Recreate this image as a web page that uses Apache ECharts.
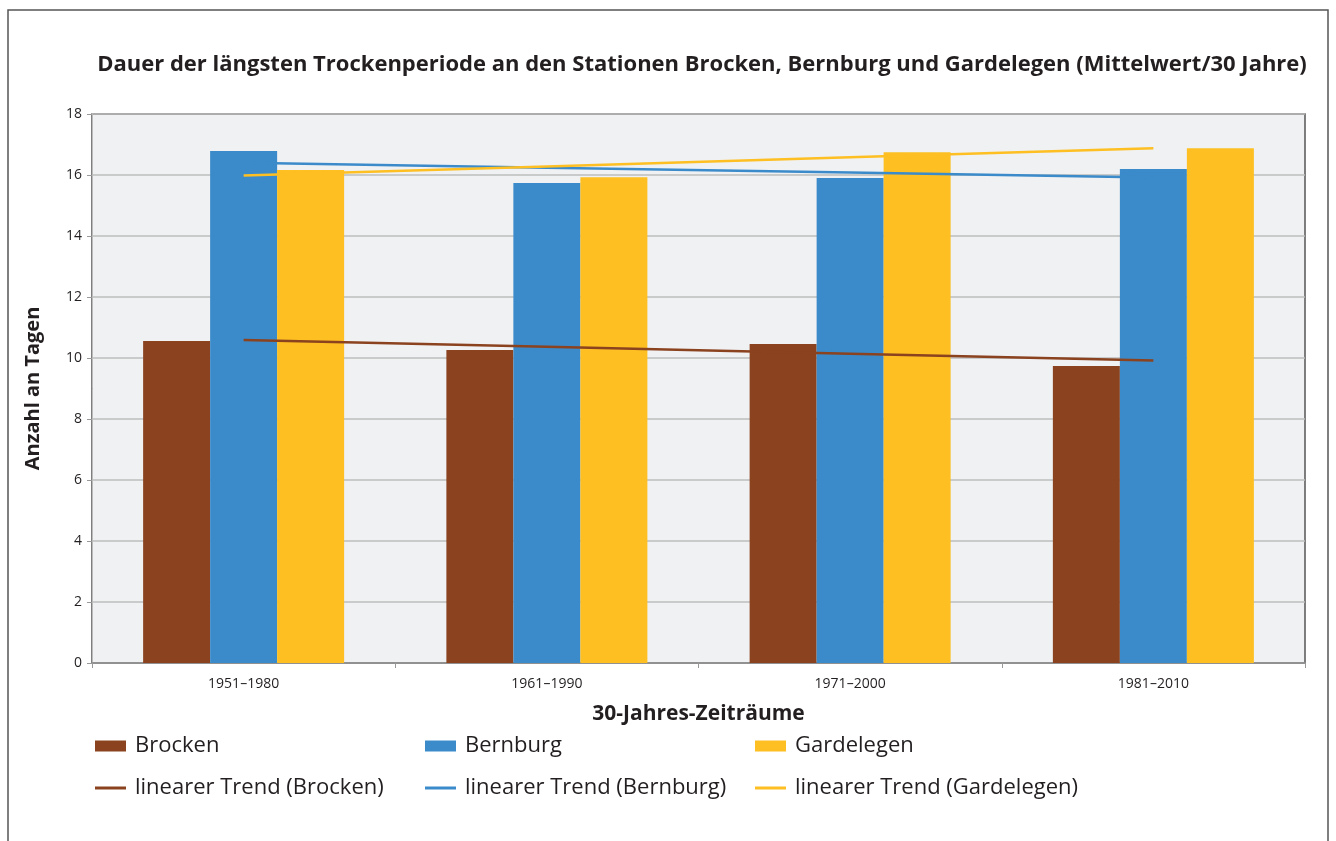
<!DOCTYPE html>
<html>
<head>
    <meta charset="utf-8">
    <title>Trockenperiode</title>
    <script src="https://cdn.jsdelivr.net/npm/echarts@6/dist/echarts.min.js"></script>
</head>
<body style="margin:0;background:#fff;">
    <div id="main" style="width:1336px;height:841px;"></div>
    <script type="text/javascript">
        // Daten
        var zeitraeume = ['1951–1980', '1961–1990', '1971–2000', '1981–2010'];
        var brocken = [10.56, 10.26, 10.46, 9.74];
        var bernburg = [16.79, 15.74, 15.90, 16.20];
        var gardelegen = [16.16, 15.93, 16.75, 16.88];
        // lineare Trends
        var trendBrocken = [10.59, 10.37, 10.14, 9.92];
        var trendBernburg = [16.40, 16.24, 16.08, 15.92];
        var trendGardelegen = [15.98, 16.28, 16.58, 16.88];

        var farben = {brocken: '#8b421e', bernburg: '#3b8bca', gardelegen: '#fdbf22'};
        var schrift = '"Open Sans", sans-serif';

        var myChart = echarts.init(document.getElementById('main'));

        var legendText = {color: '#231f20', fontSize: 22, fontFamily: schrift, padding: [0, 0, 0, 4]};
        // istLinie: schmales Symbol fuer die Trendlinien
        function legende(name, x, y, istLinie) {
            return {
                data: [name], left: x, top: y, padding: 0,
                icon: 'rect', itemWidth: 31, itemHeight: istLinie ? 3 : 11,
                textStyle: legendText, selectedMode: false
            };
        }

        var option = {
            backgroundColor: '#fff',
            animation: false,
            title: {
                text: 'Dauer der längsten Trockenperiode an den Stationen Brocken, Bernburg und Gardelegen (Mittelwert/30 Jahre)',
                left: 697, top: 49, textAlign: 'center',
                textStyle: {color: '#231f20', fontSize: 22, fontWeight: 'bold', fontFamily: schrift}
            },
            graphic: [{
                type: 'rect', shape: {x: 8, y: 10, width: 1320, height: 850},
                style: {fill: 'none', stroke: '#555', lineWidth: 1.5}, silent: true
            }],
            legend: [
                legende('Brocken', 95, 735, false),
                legende('Bernburg', 425, 735, false),
                legende('Gardelegen', 755, 735, false),
                legende('linearer Trend (Brocken)', 95, 777, true),
                legende('linearer Trend (Bernburg)', 425, 777, true),
                legende('linearer Trend (Gardelegen)', 755, 777, true)
            ],
            grid: {
                left: 92, right: 31, top: 114, bottom: 178,
                show: true, backgroundColor: '#f0f1f3', borderColor: '#555', borderWidth: 1.5
            },
            xAxis: {
                type: 'category',
                data: zeitraeume,
                name: '30-Jahres-Zeiträume',
                nameLocation: 'middle', nameGap: 41,
                nameTextStyle: {color: '#231f20', fontSize: 21, fontWeight: 'bold', fontFamily: schrift},
                axisLine: {lineStyle: {color: '#888', width: 1.5}},
                axisTick: {show: true, length: 5, lineStyle: {color: '#999'}},
                axisLabel: {color: '#231f20', fontSize: 14, fontFamily: schrift, margin: 14}
            },
            yAxis: {
                type: 'value',
                min: 0, max: 18, interval: 2,
                name: 'Anzahl an Tagen',
                nameLocation: 'middle', nameGap: 49, nameRotate: 90,
                nameTextStyle: {color: '#231f20', fontSize: 20, fontWeight: 'bold', fontFamily: schrift},
                axisLine: {show: true, lineStyle: {color: '#bbb', width: 1}},
                axisTick: {show: true, length: 5, lineStyle: {color: '#999'}},
                axisLabel: {color: '#231f20', fontSize: 14, fontFamily: schrift, margin: 10},
                splitLine: {lineStyle: {color: '#bcbcbc', width: 1.5}}
            },
            series: [
                {name: 'Brocken', type: 'bar', data: brocken, barWidth: 67, barGap: '0%',
                    itemStyle: {color: farben.brocken}},
                {name: 'Bernburg', type: 'bar', data: bernburg, barWidth: 67, barGap: '0%',
                    itemStyle: {color: farben.bernburg}},
                {name: 'Gardelegen', type: 'bar', data: gardelegen, barWidth: 67, barGap: '0%',
                    itemStyle: {color: farben.gardelegen}},
                {name: 'linearer Trend (Brocken)', type: 'line', data: trendBrocken, symbol: 'none',
                    itemStyle: {color: farben.brocken}, lineStyle: {color: farben.brocken, width: 2.5}},
                {name: 'linearer Trend (Bernburg)', type: 'line', data: trendBernburg, symbol: 'none',
                    itemStyle: {color: farben.bernburg}, lineStyle: {color: farben.bernburg, width: 2.5}},
                {name: 'linearer Trend (Gardelegen)', type: 'line', data: trendGardelegen, symbol: 'none',
                    itemStyle: {color: farben.gardelegen}, lineStyle: {color: farben.gardelegen, width: 2.5}}
            ]
        };

        myChart.setOption(option);
    </script>
</body>
</html>
